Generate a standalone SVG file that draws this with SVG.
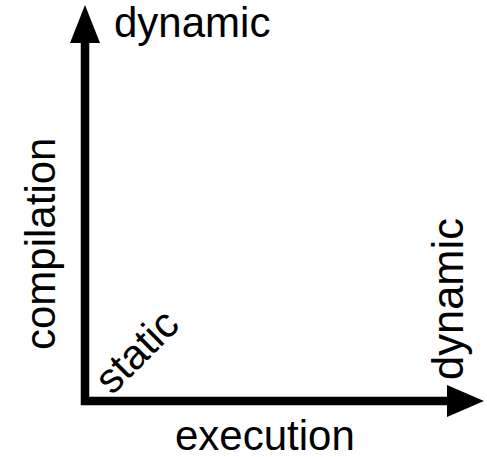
<svg xmlns="http://www.w3.org/2000/svg" width="487" height="457" viewBox="0 0 487 457">
<style>
text{font-family:"Liberation Sans",Arial,sans-serif;font-size:42px;fill:#000}
.ax{fill:none;stroke:#000;stroke-width:8.5;stroke-linejoin:miter;stroke-linecap:butt}
</style>
<rect width="487" height="457" fill="#fff"/>
<g id="connectors">
<path class="ax" d="M85,42 V401 H447"/>
<polygon points="85,5 70,43 100,43" fill="#000"/>
<polygon points="484,401 447,385 447,417" fill="#000"/>
</g>
<g id="label-dynamic-top"><text x="114" y="37">dynamic</text></g>
<g id="label-compilation"><text transform="translate(55,350) rotate(-90)">compilation</text></g>
<g id="label-static"><text transform="translate(112,396) rotate(-45)">static</text></g>
<g id="label-dynamic-right"><text transform="translate(463,380) rotate(-90)" style="font-size:43.5px">dynamic</text></g>
<g id="label-execution"><text x="175" y="450">execution</text></g>
</svg>
